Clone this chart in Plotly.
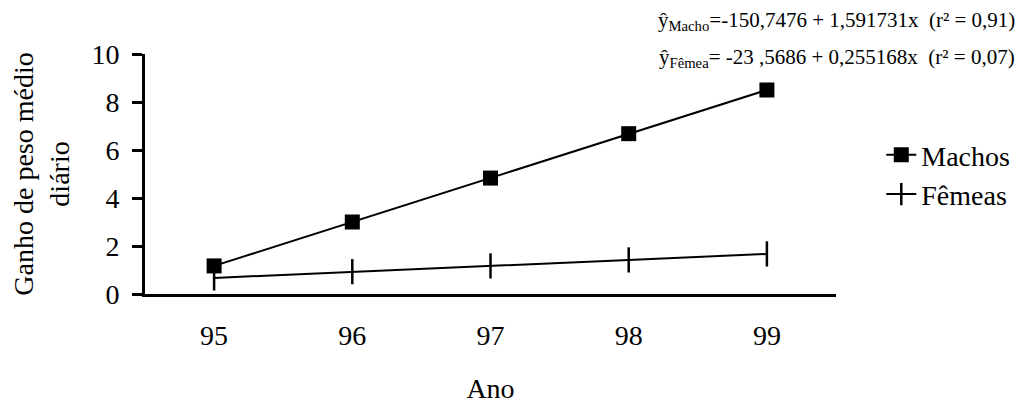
import plotly.graph_objects as go

anos = ["95", "96", "97", "98", "99"]
machos = [1.17, 3.0, 4.83, 6.68, 8.5]
femeas = [0.67, 0.93, 1.17, 1.42, 1.67]
y_ticks = [0, 2, 4, 6, 8, 10]

FONT = "Liberation Serif, Times New Roman, serif"

fig = go.Figure()
fig.add_trace(go.Scatter(
    x=anos, y=machos, name="Machos", mode="lines+markers", legendgroup="m",
    line=dict(color="black", width=2),
    marker=dict(symbol="square", size=15, color="black"),
))
fig.add_trace(go.Scatter(
    x=anos, y=femeas, name="Fêmeas", mode="lines+markers", legendgroup="f",
    line=dict(color="black", width=2),
    marker=dict(symbol="line-ns", size=18, color="black",
                line=dict(color="black", width=2.5)),
))

# page has an 8px body margin, so the figure is 8px smaller than the window
fig.update_layout(
    width=1018, height=396,
    paper_bgcolor="white", plot_bgcolor="white",
    margin=dict(l=137, r=189, t=46, b=110),
    font=dict(family=FONT, size=28, color="black"),
    showlegend=True,
    legend=dict(x=1.064, y=0.498, xanchor="left", yanchor="middle",
                font=dict(family=FONT, size=28, color="black"),
                traceorder="grouped", tracegroupgap=0,
                bgcolor="rgba(0,0,0,0)"),
    xaxis=dict(
        type="category", range=[-0.5, 4.5], automargin=False,
        showline=True, linecolor="black", linewidth=3,
        ticks="", showgrid=False, zeroline=False,
        tickfont=dict(family=FONT, size=28),
        ticklabelstandoff=14,
        title=dict(text="Ano", font=dict(family=FONT, size=28), standoff=30),
    ),
    yaxis=dict(
        range=[0, 10], tickvals=y_ticks, automargin=False,
        showline=True, linecolor="black", linewidth=3,
        ticks="outside", ticklen=10, tickwidth=3, tickcolor="black",
        showgrid=False, zeroline=False,
        tickfont=dict(family=FONT, size=28),
        ticklabelstandoff=7,
        title=dict(text="Ganho de peso médio<br>diário",
                   font=dict(family=FONT, size=28), standoff=15),
    ),
)

fig.add_annotation(
    xref="paper", yref="paper", x=1.262, y=1.138, xanchor="right", yanchor="middle",
    text="ŷ<sub>Macho</sub>=-150,7476 + 1,591731x  (r² = 0,91)",
    showarrow=False, font=dict(family=FONT, size=21, color="black"),
)
fig.add_annotation(
    xref="paper", yref="paper", x=1.262, y=0.983, xanchor="right", yanchor="middle",
    text="ŷ<sub>Fêmea</sub>= -23 ,5686 + 0,255168x  (r² = 0,07)",
    showarrow=False, font=dict(family=FONT, size=21, color="black"),
)

fig.write_html("out.html")
